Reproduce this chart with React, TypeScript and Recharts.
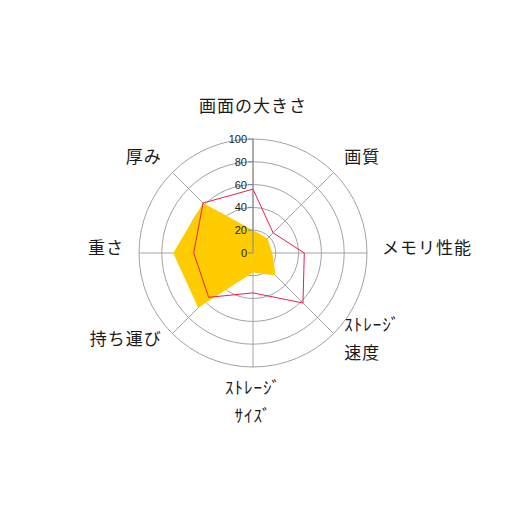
import { RadarChart, Radar, PolarGrid, PolarAngleAxis, PolarRadiusAxis } from "recharts";

// categories, clockwise from the top (Excel radar order)
const categories = [
  "画面の大きさ",
  "画質",
  "メモリ性能",
  "ｽﾄﾚｰｼﾞ\n速度",
  "ｽﾄﾚｰｼﾞ\nｻｲｽﾞ",
  "持ち運び",
  "重さ",
  "厚み",
];
const seriesFill = [20, 18, 17, 28, 17, 68, 70, 62]; // yellow area
const seriesLine = [56, 25, 45, 62, 35, 55, 52, 62]; // red outline
const radiusTicks = [0, 20, 40, 60, 80, 100];
const minorTicks = [20, 40, 60, 80];

const CX = 253;
const CY = 253;
const R = 114;
const JP_FONT = '"Noto Sans CJK JP", "Noto Sans", sans-serif';

const data = categories.map((c, i) => ({ subject: c, fill: seriesFill[i], line: seriesLine[i] }));

// category labels placed just outside the outer ring, anchored by direction
const AngleTick = (props: any) => {
  const { x, y, payload } = props;
  const dx = x - CX;
  const dy = y - CY;
  const len = Math.sqrt(dx * dx + dy * dy) || 1;
  const ux = dx / len;
  const uy = dy / len;
  const lines = String(payload.value).split("\n");
  const lh = 28;
  let anchor: "start" | "middle" | "end" = "middle";
  if (ux > 0.2) anchor = "start";
  else if (ux < -0.2) anchor = "end";

  let gap = 15;
  if (uy < -0.9) gap = 25;
  else if (uy > 0.9) gap = 12;
  const px = CX + ux * (R + gap);
  const py = CY + uy * (R + gap);

  let firstBase: number;
  if (uy < -0.9) firstBase = py - 2 - (lines.length - 1) * lh;
  else if (uy > 0.9) firstBase = py + 15;
  else firstBase = py - 5 - ((lines.length - 1) * lh) / 2 + 6;

  return (
    <g>
      {lines.map((t, i) => (
        <text
          key={i}
          x={px}
          y={firstBase + i * lh}
          textAnchor={anchor}
          fontFamily={JP_FONT}
          fontSize={17}
          letterSpacing={1}
          fill="#1a1a1a"
        >
          {t}
        </text>
      ))}
    </g>
  );
};

const ValueTick = (props: any) => {
  const { x, y, payload } = props;
  return (
    <g>
      <line x1={x - 5} y1={y} x2={x} y2={y} stroke="#868686" />
      <text
        x={x - 6}
        y={y + 4}
        textAnchor="end"
        fontFamily='"Liberation Sans", Arial, sans-serif'
        fontSize={11}
        fill="#1a1a1a"
      >
        {payload.value}
      </text>
    </g>
  );
};

// small perpendicular tick marks Excel leaves on the left spokes
const makeMinorTick = (angle: number) => (props: any) => {
  const { x, y } = props;
  const rad = (angle * Math.PI) / 180;
  const dirX = Math.cos(rad);
  const dirY = -Math.sin(rad);
  const pX = dirY;
  const pY = -dirX;
  return <line x1={x} y1={y} x2={x + pX * 5} y2={y + pY * 5} stroke="#868686" />;
};

export default function App() {
  return (
    <div style={{ position: "absolute", left: 0, top: 0, width: 506, height: 506, background: "#fff" }}>
      <RadarChart
        width={506}
        height={506}
        data={data}
        cx={CX}
        cy={CY}
        outerRadius={R}
        margin={{ top: 0, right: 0, bottom: 0, left: 0 }}
      >
        <PolarGrid gridType="circle" stroke="#a3a3a3" />
        <PolarAngleAxis dataKey="subject" tick={<AngleTick />} tickLine={false} axisLine={false} />
        <PolarRadiusAxis
          angle={90}
          domain={[0, 100]}
          ticks={radiusTicks as any}
          tick={<ValueTick />}
          axisLine={{ stroke: "#868686" }}
          tickLine={false}
        />
        {[180, 135, 225].map((a) => (
          <PolarRadiusAxis
            key={a}
            radiusAxisId={"m" + a}
            angle={a}
            domain={[0, 100]}
            ticks={minorTicks as any}
            tick={makeMinorTick(a)}
            axisLine={false}
            tickLine={false}
          />
        ))}
        <Radar dataKey="fill" stroke="none" fill="#ffcc00" fillOpacity={1} isAnimationActive={false} />
        <Radar dataKey="line" stroke="#e8204e" strokeWidth={1} fill="none" fillOpacity={0} isAnimationActive={false} />
      </RadarChart>
    </div>
  );
}
